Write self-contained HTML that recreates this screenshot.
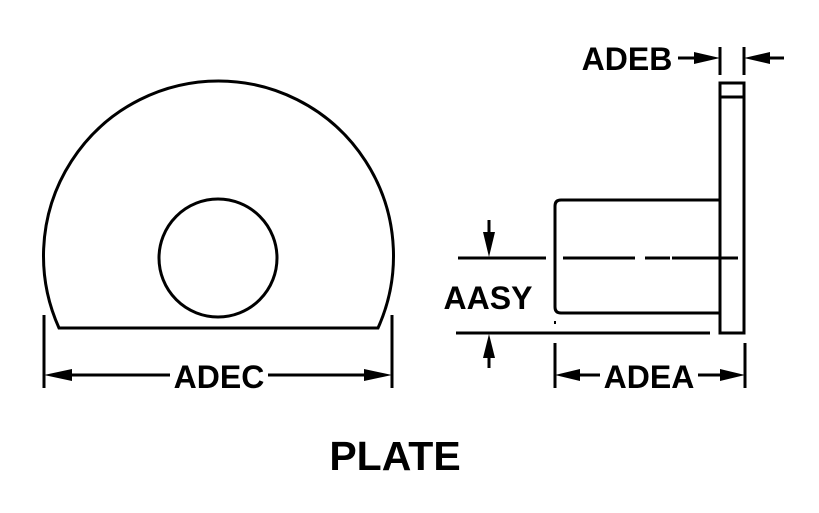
<!DOCTYPE html>
<html><head><style>
body{margin:0;background:#fff;}
svg text{font-family:"Liberation Sans",sans-serif;font-weight:bold;fill:#000;}
</style></head><body>
<svg width="819" height="508" viewBox="0 0 819 508" xmlns="http://www.w3.org/2000/svg">
<g fill="none" stroke="#000" stroke-width="3">
<path d="M59 328 A175 175 0 1 1 378 328 Z"/>
<circle cx="218" cy="258" r="59"/>
<line x1="44" y1="315" x2="44" y2="388"/>
<line x1="392" y1="315" x2="392" y2="388"/>
<line x1="60" y1="375" x2="170" y2="375"/>
<line x1="268" y1="375" x2="376" y2="375"/>
<rect x="720" y="83" width="24" height="250"/>
<line x1="720" y1="97" x2="744" y2="97"/>
<path d="M720 200 H561 Q555 200 555 206 V307 Q555 313 561 313 H720"/>
<path d="M458 258 H546 M563 258 H635 M645 258 H670 M672 258 H738"/>
<line x1="456" y1="333" x2="710" y2="333"/>
<line x1="489" y1="220" x2="489" y2="240"/>
<line x1="489" y1="350" x2="489" y2="368"/>
<line x1="555" y1="343" x2="555" y2="388"/>
<line x1="745" y1="343" x2="745" y2="388"/>
<line x1="570" y1="375" x2="600" y2="375"/>
<line x1="698" y1="375" x2="730" y2="375"/>
<line x1="720" y1="47" x2="720" y2="75"/>
<line x1="744" y1="47" x2="744" y2="75"/>
<line x1="678" y1="58" x2="704" y2="58"/>
<line x1="760" y1="58" x2="784" y2="58"/>
</g>
<g fill="#000">
<polygon points="44,375 72,369 72,381"/>
<polygon points="392,375 364,369 364,381"/>
<polygon points="489,257 483,232 495,232"/>
<polygon points="489,334 483,358 495,358"/>
<polygon points="555,375 580,369 580,381"/>
<polygon points="745,375 720,369 720,381"/>
<polygon points="720,58 694,52 694,64"/>
<polygon points="744,58 770,52 770,64"/>
<rect x="554" y="321" width="2" height="3"/>
</g>
<text x="219" y="388" font-size="32" text-anchor="middle">ADEC</text>
<text x="649" y="388" font-size="32" text-anchor="middle">ADEA</text>
<text x="627" y="70" font-size="32" text-anchor="middle">ADEB</text>
<text x="488" y="309" font-size="32" text-anchor="middle">AASY</text>
<text x="395" y="470" font-size="41" text-anchor="middle">PLATE</text>
</svg>
</body></html>
